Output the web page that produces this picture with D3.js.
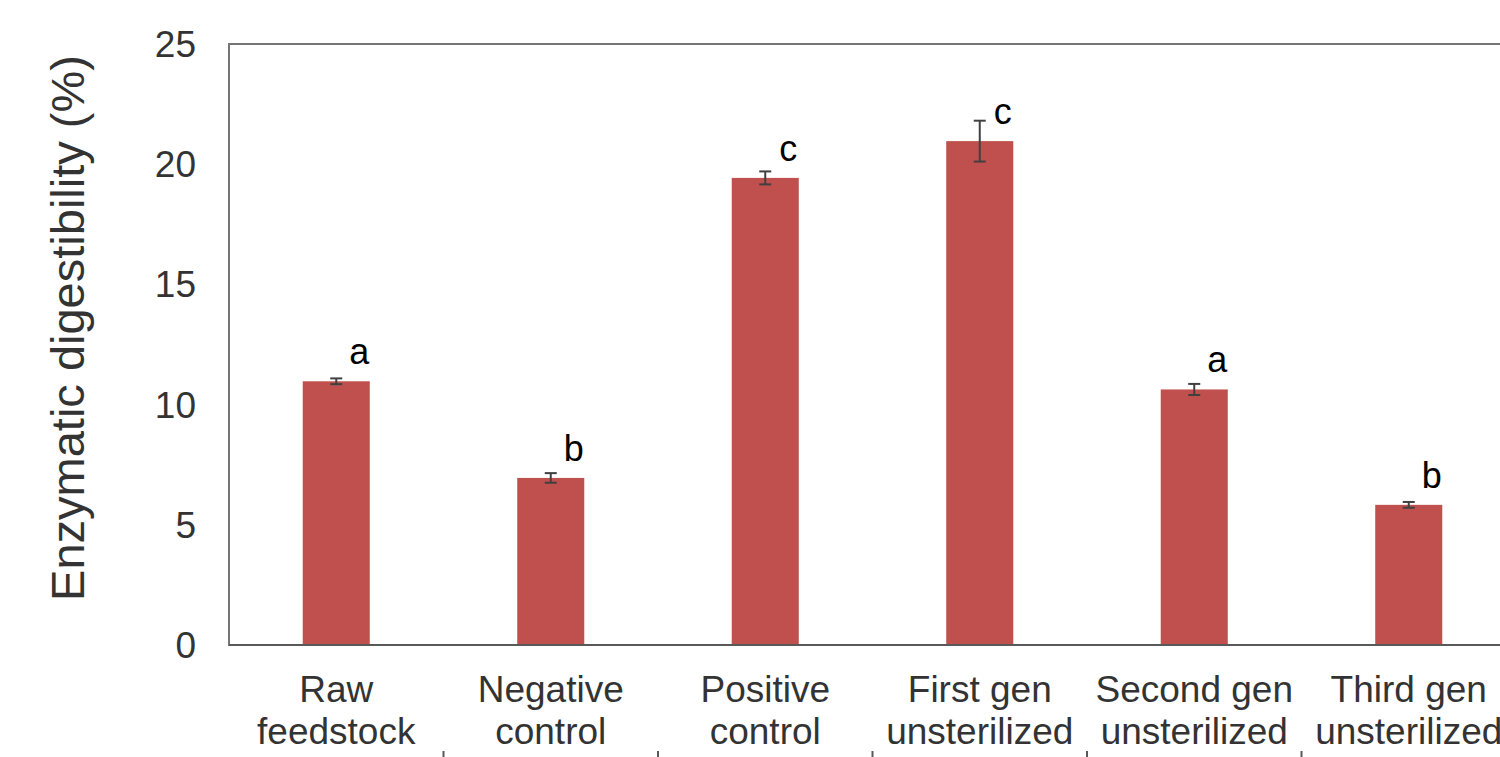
<!DOCTYPE html>
<html>
<head>
<meta charset="utf-8">
<script src="https://cdn.jsdelivr.net/npm/d3@7"></script>
<style>
  html, body { margin: 0; padding: 0; background: #fff; overflow: hidden; }
  svg { display: block; font-family: "Liberation Sans", Arial, sans-serif; }
</style>
</head>
<body>
<svg id="chart" width="1500" height="757"></svg>
<script>
// Treatment groups (two-line category labels)
const categories = [
  ["Raw", "feedstock"],
  ["Negative", "control"],
  ["Positive", "control"],
  ["First gen", "unsterilized"],
  ["Second gen", "unsterilized"],
  ["Third gen", "unsterilized"]
];
// Mean enzymatic digestibility (%)
const digestibility = [10.97, 6.95, 19.43, 20.96, 10.63, 5.83];
// Standard deviation for error bars
const errors = [0.12, 0.2, 0.27, 0.85, 0.23, 0.12];
// Significance group letters
const groups = ["a", "b", "c", "c", "a", "b"];
// Y axis ticks
const yTicks = [0, 5, 10, 15, 20, 25];

const svg = d3.select("#chart");
const plotLeft = 229, plotTop = 44, plotBottom = 645, plotRight = 1516;

const x = d3.scaleBand()
  .domain(d3.range(categories.length))
  .range([plotLeft, plotRight])
  .paddingInner(0.6875)
  .paddingOuter(0.34375);

const y = d3.scaleLinear().domain([0, 25]).range([plotBottom, plotTop]);

// plot frame
svg.append("rect")
  .attr("x", plotLeft).attr("y", plotTop)
  .attr("width", plotRight - plotLeft).attr("height", plotBottom - plotTop)
  .attr("fill", "none").attr("stroke", "#767676").attr("stroke-width", 2);

// bars
svg.append("g").selectAll("rect")
  .data(digestibility)
  .join("rect")
  .attr("x", (d, i) => x(i))
  .attr("y", d => y(d))
  .attr("width", x.bandwidth())
  .attr("height", d => y(0) - y(d))
  .attr("fill", "#C0504D");

// baseline
svg.append("line")
  .attr("x1", plotLeft).attr("x2", plotRight)
  .attr("y1", y(0)).attr("y2", y(0))
  .attr("stroke", "#595959").attr("stroke-width", 2);

// error bars
const eb = svg.append("g").attr("stroke", "#404040").attr("stroke-width", 2);
digestibility.forEach((d, i) => {
  const cx = x(i) + x.bandwidth() / 2;
  const y1 = y(d + errors[i]), y2 = y(d - errors[i]);
  eb.append("line").attr("x1", cx).attr("x2", cx).attr("y1", y1).attr("y2", y2);
  eb.append("line").attr("x1", cx - 6).attr("x2", cx + 6).attr("y1", y1).attr("y2", y1);
  eb.append("line").attr("x1", cx - 6).attr("x2", cx + 6).attr("y1", y2).attr("y2", y2);
});

// significance letters
svg.append("g").selectAll("text")
  .data(groups)
  .join("text")
  .attr("x", (d, i) => x(i) + x.bandwidth() / 2 + 23)
  .attr("y", (d, i) => y(digestibility[i]) - 17)
  .attr("text-anchor", "middle")
  .attr("font-size", 36)
  .attr("fill", "#000")
  .text(d => d);

// y axis tick labels
svg.append("g").selectAll("text")
  .data(yTicks)
  .join("text")
  .attr("x", 196)
  .attr("y", d => y(d))
  .attr("dy", "0.35em")
  .attr("text-anchor", "end")
  .attr("font-size", 37)
  .attr("fill", "#333")
  .text(d => d);

// category labels
const cl = svg.append("g").selectAll("text")
  .data(categories)
  .join("text")
  .attr("text-anchor", "middle")
  .attr("font-size", 37)
  .attr("fill", "#333");
cl.each(function (d, i) {
  const cx = x(i) + x.bandwidth() / 2;
  d3.select(this).selectAll("tspan")
    .data(d)
    .join("tspan")
    .attr("x", cx)
    .attr("y", (t, j) => 702 + j * 42)
    .text(t => t);
});

// category separator ticks
const step = x.step();
svg.append("g").selectAll("line")
  .data(d3.range(1, categories.length))
  .join("line")
  .attr("x1", i => x(i) - step * x.paddingInner() / 2)
  .attr("x2", i => x(i) - step * x.paddingInner() / 2)
  .attr("y1", 751).attr("y2", 760)
  .attr("stroke", "#595959").attr("stroke-width", 2);

// y axis title
svg.append("text")
  .attr("transform", "translate(84," + 328 + ") rotate(-90)")
  .attr("text-anchor", "middle")
  .attr("font-size", 47)
  .attr("fill", "#333")
  .text("Enzymatic digestibility (%)");
</script>
</body>
</html>
